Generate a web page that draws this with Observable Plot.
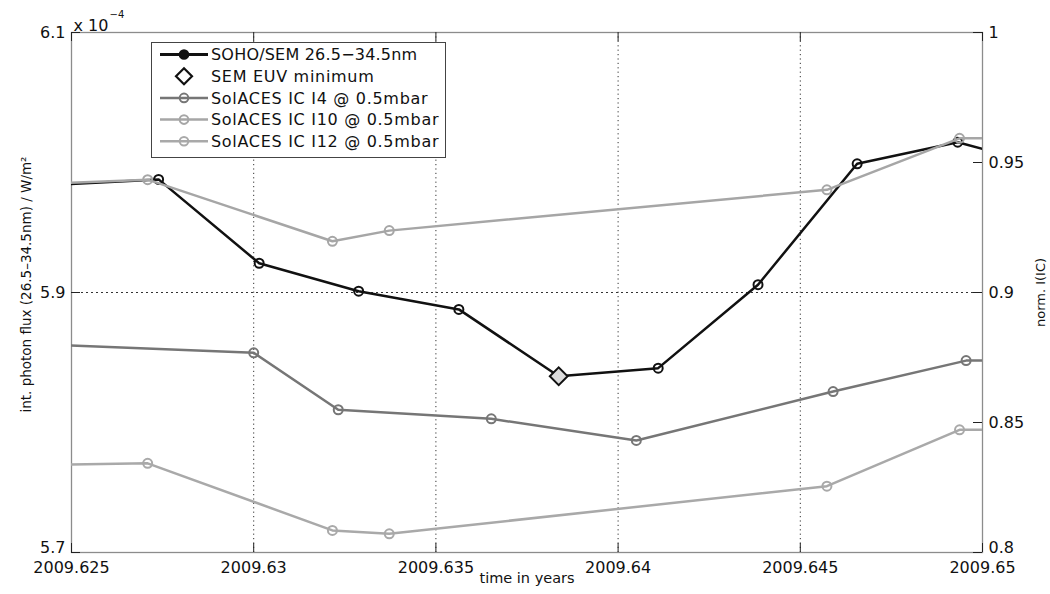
<!DOCTYPE html>
<html><head><meta charset="utf-8">
<script src="https://cdn.jsdelivr.net/npm/d3@7"></script>
<script src="https://cdn.jsdelivr.net/npm/@observablehq/plot@0.6"></script>
<style>
body{margin:0;background:#fff;}
#wrap{position:relative;width:1050px;height:594px;font-family:"DejaVu Sans",sans-serif;}
#legend{position:absolute;left:151px;top:42px;width:295px;height:116px;border:1px solid #444;background:#fff;box-sizing:border-box;}
#legend svg{display:block;}
</style></head><body><div id="wrap"></div>
<script>
// ---- data ----
const semYear = [2009.62464, 2009.62739, 2009.63015, 2009.63288, 2009.63563, 2009.63837, 2009.64110, 2009.64384, 2009.64656, 2009.64932, 2009.65206];
const semFlux = [5.983, 5.987, 5.9225, 5.901, 5.887, 5.8356, 5.8418, 5.906, 5.999, 6.0156, 5.995]; // x 1e-4 W/m^2
const minYear = [2009.63837];
const minFlux = [5.8356];
const i4Year = [2009.62196, 2009.63000, 2009.63232, 2009.63652, 2009.64050, 2009.64590, 2009.64955, 2009.65214];
const i4Norm = [0.8813, 0.8768, 0.8549, 0.8514, 0.8431, 0.8619, 0.8738, 0.8738];
const i10i12Year = [2009.62195, 2009.62709, 2009.63216, 2009.63372, 2009.64573, 2009.64937, 2009.65214];
const i10Norm = [0.9405, 0.9434, 0.9197, 0.9238, 0.9395, 0.9593, 0.9593];
const i12Norm = [0.8331, 0.8343, 0.8085, 0.8072, 0.8255, 0.8472, 0.8472];
const xTicks = [2009.625, 2009.63, 2009.635, 2009.64, 2009.645, 2009.65];
const xTickLabels = ["2009.625", "2009.63", "2009.635", "2009.64", "2009.645", "2009.65"];
const xGrid = [2009.63, 2009.635, 2009.64, 2009.645];
const leftTicks = [5.7, 5.9, 6.1];
const leftTickLabels = ["5.7", "5.9", "6.1"];
const rightTicks = [0.8, 0.85, 0.9, 0.95, 1];
const rightTickLabels = ["0.8", "0.85", "0.9", "0.95", "1"];
const seriesNames = ["SOHO/SEM 26.5\u221234.5nm", "SEM EUV minimum", "SolACES IC I4 @ 0.5mbar", "SolACES IC I10 @ 0.5mbar", "SolACES IC I12 @ 0.5mbar"];

// right axis (norm. I(IC), 0.8..1) mapped onto the left scale (5.7..6.1)
const toLeft = r => 5.7 + (r - 0.8) * 2;
const colSEM = "#111", colI4 = "#767676", colI10 = "#a6a6a6", colI12 = "#a9a9a9";

const sem = semYear.map((x, i) => ({x, y: semFlux[i]}));
const mins = minYear.map((x, i) => ({x, y: minFlux[i]}));
const i4 = i4Year.map((x, i) => ({x, y: toLeft(i4Norm[i])}));
const i10 = i10i12Year.map((x, i) => ({x, y: toLeft(i10Norm[i])}));
const i12 = i10i12Year.map((x, i) => ({x, y: toLeft(i12Norm[i])}));
const rightPos = rightTicks.map(toLeft);

const frameW = 1050 - 71 - 68, frameH = 594 - 32 - 42;
const tk = 9;
const leftLab = d => leftTickLabels[leftTicks.indexOf(d)];
const rightLab = d => rightTickLabels[rightPos.indexOf(d)];

function series(data, color) {
  return [
    Plot.line(data, {x: "x", y: "y", stroke: color, strokeWidth: 2.5, clip: true}),
    Plot.dot(data, {x: "x", y: "y", r: 4.5, stroke: color, strokeWidth: 2, fill: "none", clip: true})
  ];
}

const chart = Plot.plot({
  width: 1050, height: 594,
  marginLeft: 71, marginRight: 68, marginTop: 32, marginBottom: 42,
  style: {fontFamily: "DejaVu Sans", fontSize: "16px", color: "#111", background: "#fff", overflow: "visible"},
  x: {domain: [2009.625, 2009.65]},
  y: {domain: [5.7, 6.1]},
  marks: [
    Plot.ruleX(xGrid, {stroke: "#333", strokeDasharray: "1.2,3.2"}),
    Plot.ruleY([5.9], {stroke: "#333", strokeDasharray: "2,3"}),
    Plot.frame({stroke: "#8c8c8c", strokeWidth: 1.3}),
    Plot.ruleX(xTicks, {insetTop: frameH - tk, stroke: "#222"}),
    Plot.ruleX(xTicks, {insetBottom: frameH - tk, stroke: "#222"}),
    Plot.ruleY(leftTicks, {insetRight: frameW - tk, stroke: "#222"}),
    Plot.ruleY(rightPos, {insetLeft: frameW - tk, stroke: "#222"}),
    Plot.axisX(xTicks, {tickSize: 0, tickPadding: 9, label: null, fontSize: 16,
      tickFormat: d => xTickLabels[xTicks.indexOf(d)]}),
    Plot.axisY(leftTicks.slice(1), {anchor: "left", tickSize: 0, tickPadding: 6, label: null, fontSize: 16, tickFormat: leftLab}),
    Plot.axisY(leftTicks.slice(0, 1), {anchor: "left", tickSize: 0, tickPadding: 6, label: null, fontSize: 16, dy: -5, tickFormat: leftLab}),
    Plot.axisY(rightPos.slice(1), {anchor: "right", tickSize: 0, tickPadding: 6, label: null, fontSize: 16, tickFormat: rightLab}),
    Plot.axisY(rightPos.slice(0, 1), {anchor: "right", tickSize: 0, tickPadding: 6, label: null, fontSize: 16, dy: -5, tickFormat: rightLab}),
    ...series(sem, colSEM),
    Plot.dot(mins, {x: "x", y: "y", symbol: "diamond2", r: 8, fill: "#dcdcdc", stroke: "#111", strokeWidth: 2}),
    ...series(i4, colI4),
    ...series(i10, colI10),
    ...series(i12, colI12),
    Plot.text(["time in years"], {frameAnchor: "bottom", dy: 30, fontSize: 14.5, textAnchor: "middle"}),
    Plot.text(["int. photon flux (26.5\u201334.5nm) / W/m\u00b2"], {frameAnchor: "left", dx: -45, dy: -8, rotate: -90, fontSize: 13.5, textAnchor: "middle"}),
    Plot.text(["norm. I(IC)"], {frameAnchor: "right", dx: 58, rotate: -90, fontSize: 13, textAnchor: "middle"}),
    Plot.text(["x 10"], {frameAnchor: "top-left", dx: 2, dy: -13, textAnchor: "start", fontSize: 16}),
    Plot.text(["\u22124"], {frameAnchor: "top-left", dx: 38, dy: -22, textAnchor: "start", fontSize: 10})
  ]
});
const wrap = document.getElementById("wrap");
wrap.appendChild(chart);

// legend overlay
const legCols = [colSEM, null, colI4, colI10, colI12];
let s = `<svg width="293" height="114" xmlns="http://www.w3.org/2000/svg">`;
seriesNames.forEach((name, i) => {
  const cy = 11.5 + i * 21.7;
  if (i === 1) {
    s += `<path d="M32,${cy - 8} L40,${cy} L32,${cy + 8} L24,${cy} Z" fill="#fff" stroke="#111" stroke-width="2.2"/>`;
  } else {
    const w = i === 0 ? 3.2 : 2.5;
    s += `<line x1="8" x2="56" y1="${cy}" y2="${cy}" stroke="${legCols[i]}" stroke-width="${w}"/>`;
    s += `<circle cx="32" cy="${cy}" r="4.3" fill="${i === 0 ? legCols[i] : "none"}" stroke="${legCols[i]}" stroke-width="2"/>`;
  }
  s += `<text x="59" y="${cy}" dy="0.36em" font-family="DejaVu Sans" font-size="16" letter-spacing="${i === 0 ? 0.2 : 0.7}" fill="#111">${name}</text>`;
});
s += `</svg>`;
const leg = document.createElement("div");
leg.id = "legend";
leg.innerHTML = s;
wrap.appendChild(leg);
</script></body></html>
